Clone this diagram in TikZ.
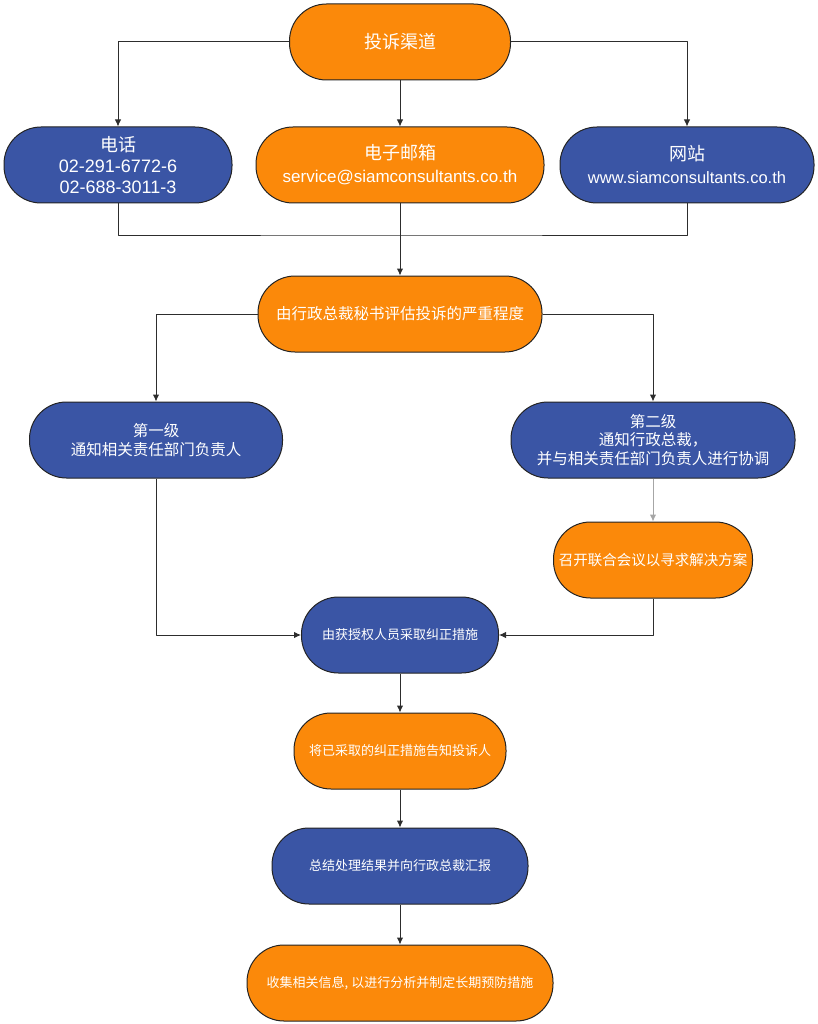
\documentclass[tikz,border=0pt]{standalone}
\usepackage{fontspec}
\setmainfont{Liberation Sans}
\newfontfamily\cjk{Noto Sans CJK SC}
\usetikzlibrary{arrows.meta}
\definecolor{pillorange}{RGB}{251,137,10}
\definecolor{pillblue}{RGB}{58,85,165}
\definecolor{edgegray}{RGB}{35,35,35}
\definecolor{linegray}{RGB}{45,45,45}

\begin{document}
\begin{tikzpicture}[x=1pt, y=-1pt, line join=round, >={Latex[length=7pt,width=6.5pt]},
		pill/.style={draw=edgegray, line width=1pt, rounded corners=37pt, text=white,
			align=center, inner sep=0pt, minimum height=76pt},
		orangepill/.style={pill, fill=pillorange},
		bluepill/.style={pill, fill=pillblue},
		bigtxt/.style={font=\fontsize{18}{21}\selectfont},
		midtxt/.style={font=\cjk\fontsize{15.5}{18.5}\selectfont},
		smalltxt/.style={font=\cjk\fontsize{13}{16}\selectfont},
		link/.style={draw=linegray, line width=1pt}]
	\useasboundingbox (0,0) rectangle (818,1024);
	% channels
	\node[orangepill, bigtxt, minimum width=221pt] (chan) at (400,42) {{\cjk 投诉渠道}};
	\node[bluepill, bigtxt, minimum width=228pt] (tel) at (118,165) {{\cjk 电话}\\02-291-6772-6\\02-688-3011-3};
	\node[orangepill, bigtxt, minimum width=288pt] (mail) at (400,165) {{\cjk 电子邮箱}\\[2pt]{\fontsize{17}{20}\selectfont service@siamconsultants.co.th}};
	\node[bluepill, bigtxt, minimum width=254pt] (web) at (687,165) {{\cjk 网站}\\[2pt]{\fontsize{16.5}{20}\selectfont www.siamconsultants.co.th}};
	\coordinate (join) at (400,235);
	% assessment
	\node[orangepill, midtxt, minimum width=284pt] (eval) at (400,314) {由行政总裁秘书评估投诉的严重程度};
	\node[bluepill, midtxt, minimum width=253pt] (lv1) at (156,440) {第一级\\通知相关责任部门负责人};
	\node[bluepill, midtxt, minimum width=284pt] (lv2) at (653,440) {第二级\\通知行政总裁，\\并与相关责任部门负责人进行协调};
	\node[orangepill, font=\cjk\fontsize{14.5}{18}\selectfont, minimum width=199pt] (meet) at (653,560) {召开联合会议以寻求解决方案};
	% actions
	\node[bluepill, smalltxt, minimum width=197pt] (act) at (400,635) {由获授权人员采取纠正措施};
	\node[orangepill, smalltxt, minimum width=212pt] (tell) at (400,751) {将已采取的纠正措施告知投诉人};
	\node[bluepill, smalltxt, minimum width=256pt] (sum) at (400,866) {总结处理结果并向行政总裁汇报};
	\node[orangepill, smalltxt, minimum width=306pt] (coll) at (400,983) {收集相关信息, 以进行分析并制定长期预防措施};

	\draw[link, ->] (chan.west) -| (tel.north);
	\draw[link, ->] (chan.south) -- (mail.north);
	\draw[link, ->] (chan.east) -| (web.north);
	\draw[link] (tel.south) |- (join) -| (web.south);
	\draw[link, ->] (mail.south) -- (eval.north);
	\draw[link, ->] (eval.west) -| (lv1.north);
	\draw[link, ->] (eval.east) -| (lv2.north);
	\draw[link, draw=gray!70, ->] (lv2.south) -- (meet.north);
	\draw[link, ->] (lv1.south) |- (act.west);
	\draw[link, ->] (meet.south) |- (act.east);
	\draw[link, ->] (act) -- (tell);
	\draw[link, ->] (tell) -- (sum);
	\draw[link, ->] (sum) -- (coll);
\end{tikzpicture}
\end{document}
